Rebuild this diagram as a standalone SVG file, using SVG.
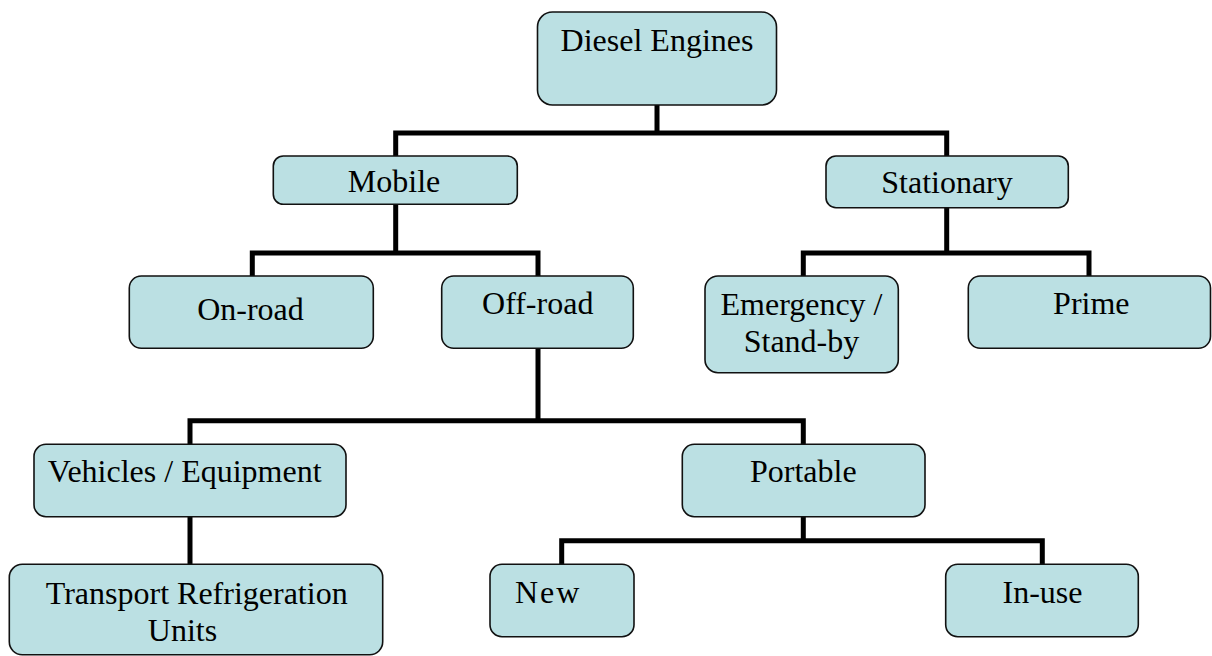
<svg xmlns="http://www.w3.org/2000/svg" width="1212" height="656" viewBox="0 0 1212 656">
<style>
.box{fill:#BBE0E3;stroke:#111;stroke-width:1.6}
.lbl{font-family:"Liberation Serif","Times New Roman",serif;font-size:32px;fill:#000;text-anchor:middle}
.conn{fill:none;stroke:#000;stroke-width:5;stroke-linejoin:miter;stroke-linecap:butt}
</style>
<rect width="1212" height="656" fill="#fff"/>
<g id="connectors">
<path class="conn" d="M657 105 V133 M395.7 156 V133 H946.7 V156"/>
<path class="conn" d="M395.7 204 V253 M252.3 276 V253 H538 V276"/>
<path class="conn" d="M946.7 208 V253 M803.3 276 V253 H1089 V276"/>
<path class="conn" d="M538 348 V420.7 M190 444 V420.7 H803.3 V444"/>
<path class="conn" d="M190 517 V564"/>
<path class="conn" d="M803.3 517 V540.7 M561.7 564 V540.7 H1042.3 V564"/>
</g>
<g id="diesel"><rect class="box" x="537.5" y="12" width="239" height="93" rx="15"/><text class="lbl" x="657" y="51">Diesel Engines</text></g>
<g id="mobile"><rect class="box" x="273.3" y="156" width="244" height="48.3" rx="10"/><text class="lbl" x="394" y="191.5">Mobile</text></g>
<g id="stationary"><rect class="box" x="826" y="156" width="242.3" height="51.7" rx="10"/><text class="lbl" x="947" y="192.5">Stationary</text></g>
<g id="onroad"><rect class="box" x="129.3" y="276" width="244" height="72.3" rx="12"/><text class="lbl" x="250.5" y="320">On-road</text></g>
<g id="offroad"><rect class="box" x="441.7" y="276" width="191.6" height="72.3" rx="12"/><text class="lbl" x="537.7" y="314">Off-road</text></g>
<g id="emergency"><rect class="box" x="705" y="276" width="193.3" height="96.7" rx="13"/><text class="lbl" x="801.5" y="315">Emergency /</text><text class="lbl" x="801.5" y="351.7">Stand-by</text></g>
<g id="prime"><rect class="box" x="968.3" y="276" width="242.2" height="72.3" rx="12"/><text class="lbl" x="1091.3" y="314">Prime</text></g>
<g id="vehicles"><rect class="box" x="34" y="444.3" width="312" height="72.4" rx="12"/><text class="lbl" x="184.7" y="481.7">Vehicles / Equipment</text></g>
<g id="portable"><rect class="box" x="682.3" y="444.3" width="242.7" height="72.4" rx="12"/><text class="lbl" x="803.3" y="481.7">Portable</text></g>
<g id="tru"><rect class="box" x="9.3" y="564.3" width="373.4" height="90.5" rx="13"/><text class="lbl" x="196.7" y="604">Transport Refrigeration</text><text class="lbl" x="182.5" y="640.7">Units</text></g>
<g id="new"><rect class="box" x="490" y="564.3" width="144" height="72.4" rx="12"/><text class="lbl" x="515" y="603.3" style="text-anchor:start;letter-spacing:2px">New</text></g>
<g id="inuse"><rect class="box" x="945.7" y="564.3" width="192.6" height="72.4" rx="12"/><text class="lbl" x="1042.5" y="603.3">In-use</text></g>
</svg>
